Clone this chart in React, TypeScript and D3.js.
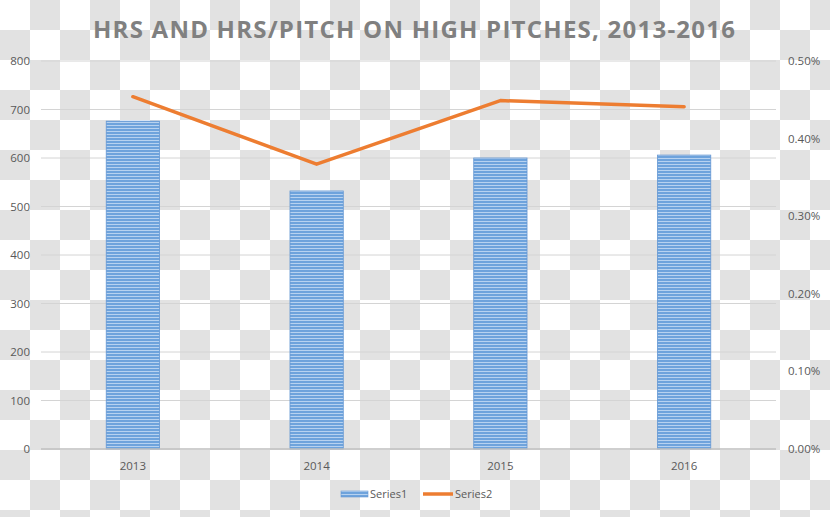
import React from "react";
import * as d3 from "d3";

const categories = ["2013", "2014", "2015", "2016"];
const series1 = [676, 532, 600, 606];
const series2 = [0.00454, 0.00367, 0.00449, 0.00441];
const leftTicks = [0, 100, 200, 300, 400, 500, 600, 700, 800];
const rightTicks = [0, 0.001, 0.002, 0.003, 0.004, 0.005];
const title = "HRS AND HRS/PITCH ON HIGH PITCHES, 2013-2016";

const W = 830;
const H = 517;
const plotLeft = 41;
const plotRight = 776;
const plotTop = 61;
const plotBottom = 449;

export default function App() {
  const x = d3.scaleBand<string>().domain(categories).range([plotLeft, plotRight]).paddingInner(0.71).paddingOuter(0.355);
  const xc = d3.scaleBand<string>().domain(categories).range([plotLeft, plotRight]);
  const yL = d3.scaleLinear().domain([0, 800]).range([plotBottom, plotTop]);
  const yR = d3.scaleLinear().domain([0, 0.005]).range([plotBottom, plotTop]);
  const fmtR = d3.format(".2%");
  const line = d3
    .line<number>()
    .x((_, i) => (xc(categories[i]) as number) + xc.bandwidth() / 2)
    .y((d) => yR(d));

  const font = "'Open Sans', sans-serif";
  return (
    <svg width={W} height={H} style={{ position: "absolute", left: 0, top: 0, display: "block" }}>
      <defs>
        <pattern id="checker" width="60" height="60" patternUnits="userSpaceOnUse">
          <rect width="60" height="60" fill="#ffffff" />
          <rect x="30" y="0" width="30" height="30" fill="#e2e2e2" />
          <rect x="0" y="30" width="30" height="30" fill="#e2e2e2" />
        </pattern>
        <pattern id="stripes" width="8" height="3" patternUnits="userSpaceOnUse">
          <rect width="8" height="3" fill="#6ea3dc" />
          <rect y="2" width="8" height="1" fill="#b7d2f0" />
        </pattern>
      </defs>
      <rect width={W} height={H} fill="url(#checker)" />
      <text
        x={93}
        y={38}
        textLength={642}
        lengthAdjust="spacing"
        fontFamily={font}
        fontWeight="bold"
        fontSize={24}
        fill="#808080"
      >
        {title}
      </text>
      {leftTicks.map((t) => (
        <g key={t}>
          {t > 0 && (
            <line x1={plotLeft} x2={plotRight} y1={yL(t)} y2={yL(t)} stroke="#d4d4d4" strokeWidth={1} />
          )}
          <text x={30} y={yL(t) + 4} textAnchor="end" fontFamily={font} fontSize={11.5} fill="#595959">
            {t}
          </text>
        </g>
      ))}
      {rightTicks.map((t) => (
        <text key={t} x={788} y={yR(t) + 4} fontFamily={font} fontSize={11.5} fill="#595959">
          {fmtR(t)}
        </text>
      ))}
      {categories.map((c, i) => (
        <rect
          key={c}
          x={x(c)}
          y={yL(series1[i])}
          width={x.bandwidth()}
          height={plotBottom - yL(series1[i])}
          fill="url(#stripes)"
          stroke="#6497d3"
          strokeWidth={0.8}
        />
      ))}
      <line x1={plotLeft} x2={plotRight} y1={plotBottom} y2={plotBottom} stroke="#bfbfbf" strokeWidth={1.5} />
      {categories.map((c) => (
        <text
          key={c}
          x={(xc(c) as number) + xc.bandwidth() / 2}
          y={470}
          textAnchor="middle"
          fontFamily={font}
          fontSize={11.5}
          fill="#595959"
        >
          {c}
        </text>
      ))}
      <path d={line(series2) || ""} fill="none" stroke="#ed7d31" strokeWidth={3.5} strokeLinejoin="round" strokeLinecap="round" />
      <g>
        <rect x={341} y={491} width={27} height={6} fill="url(#stripes)" stroke="#6497d3" strokeWidth={0.6} />
        <text x={370} y={498} fontFamily={font} fontSize={11} fill="#595959">Series1</text>
        <line x1={423} x2={453} y1={494} y2={494} stroke="#ed7d31" strokeWidth={3.5} />
        <text x={455} y={498} fontFamily={font} fontSize={11} fill="#595959">Series2</text>
      </g>
    </svg>
  );
}
